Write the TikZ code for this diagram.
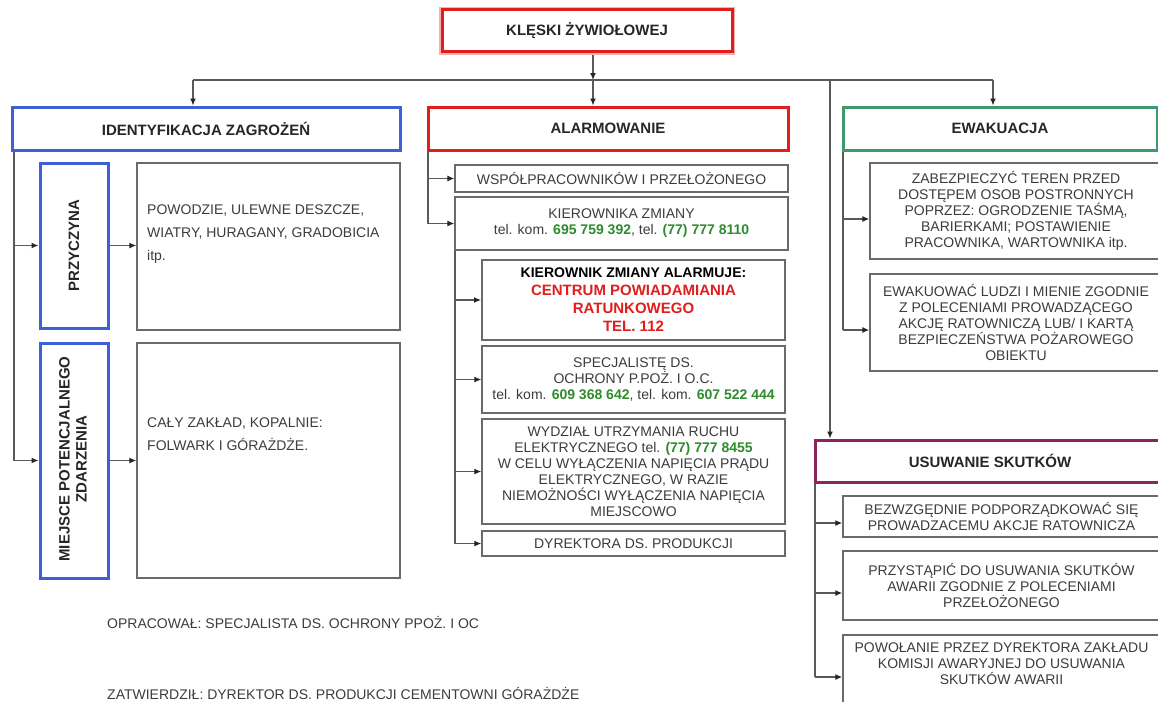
\documentclass[tikz,border=0pt]{standalone}
\usepackage{fontspec}
\setmainfont{Liberation Sans}
\usepackage{tikz}
\usetikzlibrary{arrows.meta}
\definecolor{txtgray}{HTML}{3C3C3C}
\definecolor{boxgray}{HTML}{6A6A6A}
\definecolor{idblue}{HTML}{3D5FD8}
\definecolor{alarmred}{HTML}{E01E1E}
\definecolor{ewakgreen}{HTML}{3E9A6C}
\definecolor{usuwpurple}{HTML}{8C2462}
\definecolor{telgreen}{HTML}{2E8B2E}
\pgfdeclarelayer{nodelayer}
\pgfdeclarelayer{edgelayer}
\pgfsetlayers{edgelayer,nodelayer,main}
\tikzstyle{none}=[inner sep=0pt]
\tikzstyle{headbox}=[shape=rectangle, line width=3pt, fill=white, inner sep=0pt, align=center, text=black!85, font=\fontsize{15}{18}\selectfont\bfseries]
\tikzstyle{itembox}=[shape=rectangle, draw=boxgray, line width=1.4pt, fill=white, inner sep=0pt, align=center, text=txtgray, font=\fontsize{14}{16}\selectfont]
\tikzstyle{sidetext}=[inner sep=0pt, rotate=90, align=center, text=black!85, font=\fontsize{15}{17}\selectfont\bfseries]
\tikzstyle{freetext}=[inner sep=0pt, align=left, text=txtgray, font=\fontsize{14}{23}\selectfont]
\tikzstyle{wire}=[draw=black!65, line width=1.2pt]
\tikzstyle{arrowline}=[wire, -{Latex[length=7pt, width=6pt, color=black!85]}]
\newcommand{\telnr}[1]{\textcolor{telgreen}{\bfseries #1}}

\begin{document}
\begin{tikzpicture}[x=1pt, y=-1pt]
	\useasboundingbox (0,0) rectangle (1158,701);
	\begin{pgfonlayer}{nodelayer}
		\clip (0,0) rectangle (1158,701);
		% naglowki
		\node [style=headbox, draw=alarmred, preaction={draw=alarmred!35, line width=6pt}, minimum width=290pt, minimum height=42pt] (0) at (587, 31) {KLĘSKI ŻYWIOŁOWEJ};
		\node [style=headbox, draw=idblue, minimum width=388pt, minimum height=43pt] (1) at (206, 128.5) {IDENTYFIKACJA ZAGROŻEŃ};
		\node [style=headbox, draw=alarmred, minimum width=360pt, minimum height=43pt] (2) at (608, 128.5) {ALARMOWANIE};
		\node [style=headbox, draw=ewakgreen, minimum width=314pt, minimum height=43pt] (3) at (1000, 128.5) {EWAKUACJA};
		% identyfikacja
		\node [style=headbox, draw=idblue, minimum width=68pt, minimum height=165pt] (4) at (74, 245.5) {};
		\node [style=headbox, draw=idblue, minimum width=68pt, minimum height=235pt] (5) at (74, 460.5) {};
		\node [style=itembox, minimum width=263pt, minimum height=167pt] (6) at (268.5, 246.5) {};
		\node [style=itembox, minimum width=263pt, minimum height=235pt] (7) at (268.5, 460.5) {};
		% alarmowanie
		\node [style=itembox, minimum width=333pt, minimum height=27pt] (8) at (621.5, 178.5) {WSPÓŁPRACOWNIKÓW I PRZEŁOŻONEGO};
		\node [style=itembox, minimum width=333pt, minimum height=53pt] (9) at (621.5, 223.5) {KIEROWNIKA ZMIANY\\tel. kom. \telnr{695 759 392}, tel. \telnr{(77) 777 8110}};
		\node [style=itembox, line width=2pt, minimum width=303pt, minimum height=80pt, font=\fontsize{15}{18}\selectfont\bfseries] (10) at (633.5, 300) {\textcolor{black}{\fontsize{14}{18}\selectfont KIEROWNIK ZMIANY ALARMUJE:}\\\textcolor{alarmred}{CENTRUM POWIADAMIANIA}\\\textcolor{alarmred}{RATUNKOWEGO}\\\textcolor{alarmred}{TEL. 112}};
		\node [style=itembox, minimum width=303pt, minimum height=67pt] (11) at (633.5, 379.5) {SPECJALISTĘ DS.\\OCHRONY P.POŻ. I O.C.\\tel. kom. \telnr{609 368 642}, tel. kom. \telnr{607 522 444}};
		\node [style=itembox, minimum width=303pt, minimum height=105pt] (12) at (633.5, 471.5) {WYDZIAŁ UTRZYMANIA RUCHU\\ELEKTRYCZNEGO tel. \telnr{(77) 777 8455}\\W CELU WYŁĄCZENIA NAPIĘCIA PRĄDU\\ELEKTRYCZNEGO, W RAZIE\\NIEMOŻNOŚCI WYŁĄCZENIA NAPIĘCIA\\MIEJSCOWO};
		\node [style=itembox, minimum width=303pt, minimum height=25pt] (13) at (633.5, 543.5) {DYREKTORA DS. PRODUKCJI};
		% ewakuacja
		\node [style=itembox, minimum width=292pt, minimum height=96pt] (14) at (1016, 211) {ZABEZPIECZYĆ TEREN PRZED\\DOSTĘPEM OSOB POSTRONNYCH\\POPRZEZ: OGRODZENIE TAŚMĄ,\\BARIERKAMI; POSTAWIENIE\\PRACOWNIKA, WARTOWNIKA itp.};
		\node [style=itembox, minimum width=292pt, minimum height=97pt] (15) at (1016, 322.5) {EWAKUOWAĆ LUDZI I MIENIE ZGODNIE\\Z POLECENIAMI PROWADZĄCEGO\\AKCJĘ RATOWNICZĄ LUB/ I KARTĄ\\BEZPIECZEŃSTWA POŻAROWEGO\\OBIEKTU};
		% usuwanie skutkow
		\node [style=headbox, draw=usuwpurple, minimum width=350pt, minimum height=42pt] (16) at (990, 461) {USUWANIE SKUTKÓW};
		\node [style=itembox, minimum width=317pt, minimum height=41pt] (17) at (1001.5, 516.5) {BEZWZGĘDNIE PODPORZĄDKOWAĆ SIĘ\\PROWADZACEMU AKCJE RATOWNICZA};
		\node [style=itembox, minimum width=317pt, minimum height=69pt] (18) at (1001.5, 585.5) {PRZYSTĄPIĆ DO USUWANIA SKUTKÓW\\AWARII ZGODNIE Z POLECENIAMI\\PRZEŁOŻONEGO};
		\node [style=itembox, minimum width=317pt, minimum height=100pt] (19) at (1001.5, 685) {};
		% teksty
		\node [style=itembox, draw=none, fill=none] (20) at (1001.5, 664) {POWOŁANIE PRZEZ DYREKTORA ZAKŁADU\\KOMISJI AWARYJNEJ DO USUWANIA\\SKUTKÓW AWARII};
		\node [style=sidetext] (21) at (74, 245.5) {PRZYCZYNA};
		\node [style=sidetext] (22) at (73, 459) {MIEJSCE POTENCJALNEGO\\ZDARZENIA};
		\node [style=freetext, anchor=north west] (23) at (147, 205) {POWODZIE, ULEWNE DESZCZE,\\WIATRY, HURAGANY, GRADOBICIA\\itp.};
		\node [style=freetext, anchor=north west] (24) at (147, 418) {CAŁY ZAKŁAD, KOPALNIE:\\FOLWARK I GÓRAŻDŻE.};
		\node [style=freetext, anchor=west] (25) at (107, 622) {OPRACOWAŁ: SPECJALISTA DS. OCHRONY PPOŻ. I OC};
		\node [style=freetext, anchor=west] (26) at (107, 693) {ZATWIERDZIŁ: DYREKTOR DS. PRODUKCJI CEMENTOWNI GÓRAŻDŻE};
		% punkty
		\node [style=none] (30) at (593, 80) {};
		\node [style=none] (31) at (193, 80) {};
		\node [style=none] (32) at (993, 80) {};
		\node [style=none] (33) at (830, 80) {};
		\node [style=none] (34) at (14, 150) {};
		\node [style=none] (35) at (14, 245.5) {};
		\node [style=none] (36) at (14, 460.5) {};
		\node [style=none] (37) at (428, 150) {};
		\node [style=none] (38) at (428, 178.5) {};
		\node [style=none] (39) at (428, 223.5) {};
		\node [style=none] (40) at (455, 250) {};
		\node [style=none] (41) at (455, 300) {};
		\node [style=none] (42) at (455, 379.5) {};
		\node [style=none] (43) at (455, 471.5) {};
		\node [style=none] (44) at (455, 543.5) {};
		\node [style=none] (45) at (843, 150) {};
		\node [style=none] (46) at (843, 219) {};
		\node [style=none] (47) at (843, 330) {};
		\node [style=none] (48) at (815, 482) {};
		\node [style=none] (49) at (815, 523) {};
		\node [style=none] (50) at (815, 593) {};
		\node [style=none] (51) at (815, 677) {};
	\end{pgfonlayer}
	\begin{pgfonlayer}{edgelayer}
		\clip (0,0) rectangle (1158,701);
		\draw [style=arrowline] (30 |- 0.south) to (30.center);
		\draw [style=arrowline] (30.center) to (30 |- 2.north);
		\draw [style=wire] (31.center) to (32.center);
		\draw [style=arrowline] (31.center) to (31 |- 1.north);
		\draw [style=arrowline] (32.center) to (32 |- 3.north);
		\draw [style=arrowline] (33.center) to (33 |- 16.north);
		\draw [style=wire] (34.center) to (36.center);
		\draw [style=arrowline] (35.center) to (35 -| 4.west);
		\draw [style=arrowline] (36.center) to (36 -| 5.west);
		\draw [style=arrowline] (4.east) to (4.east -| 6.west);
		\draw [style=arrowline] (5.east) to (5.east -| 7.west);
		\draw [style=wire] (37.center) to (39.center);
		\draw [style=arrowline] (38.center) to (38 -| 8.west);
		\draw [style=arrowline] (39.center) to (39 -| 9.west);
		\draw [style=wire] (40.center) to (44.center);
		\draw [style=arrowline] (41.center) to (41 -| 10.west);
		\draw [style=arrowline] (42.center) to (42 -| 11.west);
		\draw [style=arrowline] (43.center) to (43 -| 12.west);
		\draw [style=arrowline] (44.center) to (44 -| 13.west);
		\draw [style=wire] (45.center) to (47.center);
		\draw [style=arrowline] (46.center) to (46 -| 14.west);
		\draw [style=arrowline] (47.center) to (47 -| 15.west);
		\draw [style=wire] (48.center) to (51.center);
		\draw [style=arrowline] (49.center) to (49 -| 17.west);
		\draw [style=arrowline] (50.center) to (50 -| 18.west);
		\draw [style=arrowline] (51.center) to (51 -| 19.west);
	\end{pgfonlayer}
\end{tikzpicture}
\end{document}
